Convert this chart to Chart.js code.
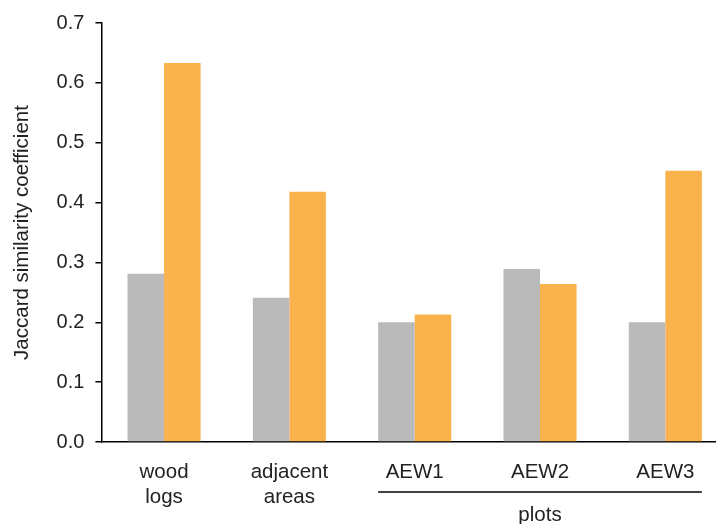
<!DOCTYPE html>
<html>
<head>
<meta charset="utf-8">
<script src="https://cdn.jsdelivr.net/npm/chart.js@4"></script>
<style>
  html, body { margin: 0; padding: 0; overflow: hidden; background: #fff; }
</style>
</head>
<body>
<canvas id="jaccardChart" width="728" height="524"></canvas>
<script>
// categories (multi-line labels as arrays)
var categories = [['wood', 'logs'], ['adjacent', 'areas'], 'AEW1', 'AEW2', 'AEW3'];
// series values
var greyValues   = [0.281, 0.241, 0.200, 0.289, 0.200];
var orangeValues = [0.633, 0.418, 0.213, 0.264, 0.453];
var groupLabel = 'plots';

const FONT = 'Liberation Sans, Arial, sans-serif';

// bracket line + "plots" under the AEW groups
const plotsBracket = {
  id: 'plotsBracket',
  afterDraw(chart) {
    const first = chart.getDatasetMeta(0).data[2];
    const last = chart.getDatasetMeta(1).data[4];
    if (!first || !last) return;
    const x0 = first.x - first.width / 2;
    const x1 = last.x + last.width / 2;
    const y = chart.chartArea.bottom + 50;
    const ctx = chart.ctx;
    ctx.save();
    ctx.strokeStyle = '#000';
    ctx.lineWidth = 1.5;
    ctx.beginPath();
    ctx.moveTo(x0, y);
    ctx.lineTo(x1, y);
    ctx.stroke();
    ctx.fillStyle = '#222';
    ctx.font = '20.5px ' + FONT;
    ctx.textAlign = 'center';
    ctx.textBaseline = 'alphabetic';
    ctx.fillText(groupLabel, (x0 + x1) / 2, y + 29);
    ctx.restore();
  }
};

var ctx = document.getElementById('jaccardChart');
var jaccardChart = new Chart(ctx, {
  type: 'bar',
  data: {
    labels: categories,
    datasets: [
      {
        label: 'grey',
        data: greyValues,
        backgroundColor: '#BABABA',
        borderWidth: 0,
        categoryPercentage: 0.583,
        barPercentage: 1.0,
      },
      {
        label: 'orange',
        data: orangeValues,
        backgroundColor: '#F9B24C',
        borderWidth: 0,
        categoryPercentage: 0.583,
        barPercentage: 1.0,
      },
    ],
  },
  plugins: [plotsBracket],
  options: {
    responsive: false,
    animation: false,
    layout: {
      padding: { top: 11, left: 10, right: 0, bottom: 0 }
    },
    plugins: {
      legend: { display: false },
      tooltip: { enabled: false },
    },
    scales: {
      x: {
        afterFit: function (scale) { scale.height = 82; },
        grid: {
          display: true,
          drawOnChartArea: false,
          drawTicks: false,
        },
        border: { display: true, color: '#000', width: 1.5 },
        ticks: {
          color: '#222',
          padding: 18,
          maxRotation: 0,
          font: { family: FONT, size: 20.5 },
        },
      },
      y: {
        min: 0,
        max: 0.7,
        grid: {
          drawOnChartArea: false,
          drawTicks: true,
          tickLength: 6,
          color: '#000',
          lineWidth: 1.5,
        },
        border: { display: true, color: '#000', width: 1.5 },
        ticks: {
          stepSize: 0.1,
          color: '#222',
          padding: 11,
          font: { family: FONT, size: 20 },
          callback: function (v) { return v.toFixed(1); },
        },
        title: {
          display: true,
          text: 'Jaccard similarity coefficient',
          color: '#222',
          font: { family: FONT, size: 20.5 },
          padding: { top: 0, bottom: 11 },
        },
      },
    },
  },
});
</script>
</body>
</html>
